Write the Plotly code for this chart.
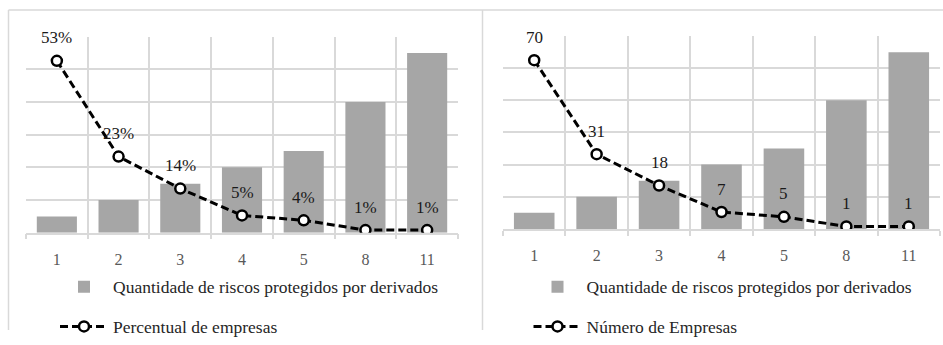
import plotly.graph_objects as go

# ---- data ----
categorias = ["1", "2", "3", "4", "5", "8", "11"]
riscos_protegidos = [1, 2, 3, 4, 5, 8, 11]
percentual_empresas = [52.6, 23.3, 13.5, 5.3, 3.8, 0.8, 0.8]
numero_empresas = [70, 31, 18, 7, 5, 1, 1]

nome_barras = "Quantidade de riscos protegidos por derivados"
nome_perc = "Percentual de empresas"
nome_num = "Número de Empresas"

FONT = "Liberation Serif, Times New Roman, serif"
GRID = "#d9d9d9"
BAR = "#a6a6a6"

W, H = 943, 345


def px(rx):
    return rx / W


def py(ry):
    return 1 - ry / H


fig = go.Figure()

line_style = dict(color="black", width=3, dash="8px,4px")
marker_style = dict(symbol="circle", size=10, color="white",
                    line=dict(color="black", width=2.5))

# Left panel
fig.add_trace(go.Bar(x=categorias, y=riscos_protegidos, name=nome_barras,
                     marker=dict(color=BAR, line=dict(width=0)),
                     xaxis="x", yaxis="y", legend="legend",
                     legendgroup="a1", hoverinfo="skip"))
fig.add_trace(go.Scatter(x=categorias, y=percentual_empresas, name=nome_perc,
                         mode="lines+markers", line=line_style, marker=marker_style,
                         xaxis="x", yaxis="y2", legend="legend",
                         legendgroup="a2", hoverinfo="skip"))
# Right panel
fig.add_trace(go.Bar(x=categorias, y=riscos_protegidos, name=nome_barras,
                     marker=dict(color=BAR, line=dict(width=0)),
                     xaxis="x2", yaxis="y3", legend="legend2",
                     legendgroup="b1", hoverinfo="skip"))
fig.add_trace(go.Scatter(x=categorias, y=numero_empresas, name=nome_num,
                         mode="lines+markers", line=line_style, marker=marker_style,
                         xaxis="x2", yaxis="y4", legend="legend2",
                         legendgroup="b2", hoverinfo="skip"))

label_font = dict(family=FONT, size=17, color="#1a1a1a")
annotations = []
for i, v in enumerate(percentual_empresas):
    annotations.append(dict(x=i, y=v, xref="x", yref="y2", text=f"{v:.0f}%",
                            showarrow=False, yshift=23, font=label_font))
for i, v in enumerate(numero_empresas):
    annotations.append(dict(x=i, y=v, xref="x2", yref="y4", text=f"{v}",
                            showarrow=False, yshift=23, font=label_font))

n = len(categorias)


def xaxis(domain, anchor):
    return dict(domain=domain, anchor=anchor, type="category",
                range=[-0.5, n - 0.5],
                showgrid=True, gridcolor=GRID, gridwidth=1.5,
                tickson="boundaries", ticks="outside", ticklen=5,
                tickcolor=GRID, tickwidth=1.5, ticklabelstandoff=11,
                showline=True, linecolor=GRID, linewidth=1.5,
                tickfont=dict(family=FONT, size=16, color="#595959"),
                fixedrange=True)


def ybar(domain, anchor):
    return dict(domain=domain, anchor=anchor, range=[0, 12], dtick=2,
                showgrid=True, gridcolor=GRID, gridwidth=1.5,
                showticklabels=False, zeroline=False, showline=False,
                fixedrange=True)


def yline(overlay, anchor, rng):
    return dict(overlaying=overlay, anchor=anchor, side="right", range=rng,
                showgrid=False, showticklabels=False, zeroline=False,
                showline=False, fixedrange=True)


frame = dict(type="line", xref="paper", yref="paper",
             line=dict(color=GRID, width=1.5))
shapes = [
    dict(frame, x0=px(8.5), x1=px(8.5), y0=0, y1=py(10.5)),
    dict(frame, x0=px(8.5), x1=1, y0=py(10.5), y1=py(10.5)),
    dict(frame, x0=px(482.5), x1=px(482.5), y0=0, y1=py(10.5)),
]

legend_common = dict(orientation="v", traceorder="grouped", tracegroupgap=14,
                     itemwidth=48, bgcolor="rgba(0,0,0,0)",
                     font=dict(family=FONT, size=17.5, color="#262626"),
                     xanchor="left", yanchor="top", itemclick=False,
                     itemdoubleclick=False)

fig.update_layout(
    width=W, height=H,
    margin=dict(l=0, r=0, t=0, b=0),
    paper_bgcolor="white", plot_bgcolor="white",
    font=dict(family=FONT),
    showlegend=True,
    bargap=0.35,
    hovermode=False,
    xaxis=xaxis([px(26), px(458)], "y"),
    yaxis=ybar([py(243.3), py(38.3)], "x"),
    yaxis2=yline("y", "x", [0, 60]),
    xaxis2=xaxis([px(503), px(940)], "y3"),
    yaxis3=ybar([py(239.3), py(37.7)], "x2"),
    yaxis4=yline("y3", "x2", [0, 80]),
    legend=dict(legend_common, x=px(55), y=py(281)),
    legend2=dict(legend_common, x=px(528.5), y=py(281)),
    annotations=annotations,
    shapes=shapes,
)

# remove the browser's default page margin so the figure sits at (0, 0)
fig.write_html("out.html",
               config={"displayModeBar": False, "staticPlot": False},
               post_script="document.body.style.margin='0';"
                           "document.body.style.overflow='hidden';")
